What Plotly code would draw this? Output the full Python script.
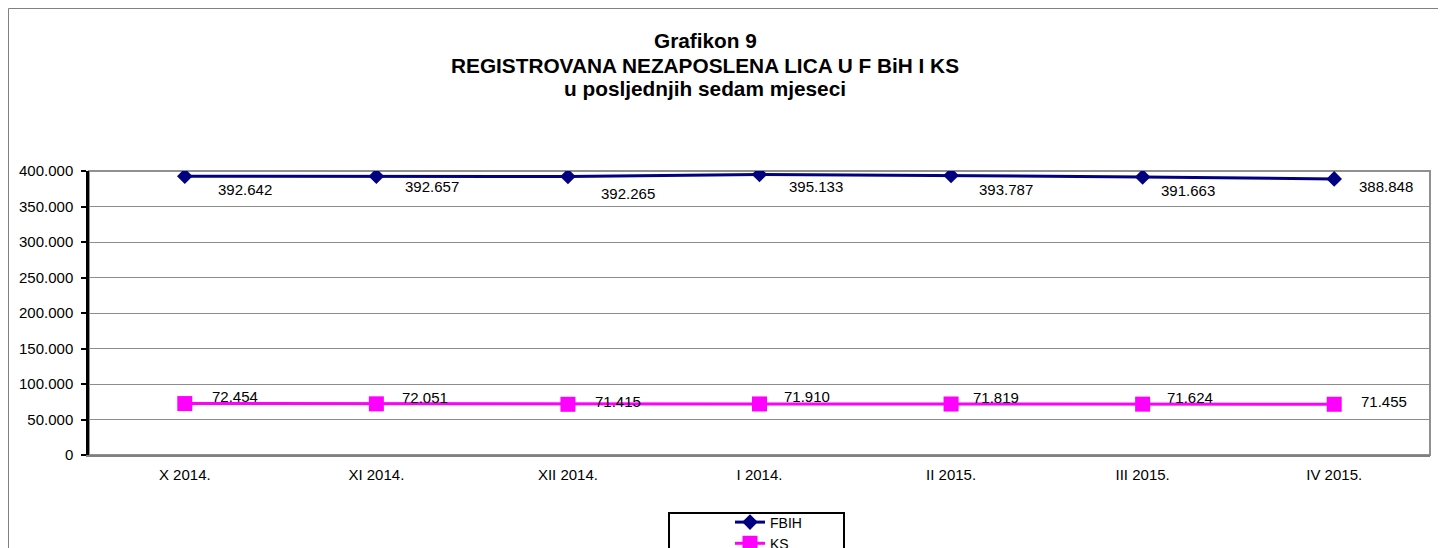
import plotly.graph_objects as go

months = ["X 2014.", "XI 2014.", "XII 2014.", "I 2014.", "II 2015.", "III 2015.", "IV 2015."]
fbih = [392642, 392657, 392265, 395133, 393787, 391663, 388848]
ks = [72454, 72051, 71415, 71910, 71819, 71624, 71455]
y_ticks = [0, 50000, 100000, 150000, 200000, 250000, 300000, 350000, 400000]

title_lines = ["Grafikon 9", "REGISTROVANA NEZAPOSLENA LICA U F BiH I KS", "u posljednjih sedam mjeseci"]

# label offsets in pixels (style only)
fbih_dx = [60, 56, 60, 56, 55, 45, 52]
fbih_dy = [-13, -10, -17, -12, -14, -14, -8]
ks_dx = [50, 49, 50, 47, 45, 47, 50]
ks_dy = [7, 6, 3, 7, 7, 7, 3]

FONT = "Arial, Liberation Sans, sans-serif"

def fmt(v):
    return f"{v:,}".replace(",", ".")

fig = go.Figure()
fig.add_trace(go.Scatter(
    x=months, y=fbih, name="FBIH", mode="lines+markers",
    line=dict(color="#000080", width=3),
    marker=dict(symbol="diamond", size=12, color="#000080"),
))
fig.add_trace(go.Scatter(
    x=months, y=ks, name="KS", mode="lines+markers",
    line=dict(color="#FF00FF", width=3),
    marker=dict(symbol="square", size=15, color="#FF00FF"),
))

annotations = []
for i, (m, v) in enumerate(zip(months, fbih)):
    annotations.append(dict(x=m, y=v, xref="x", yref="y", text=fmt(v), showarrow=False,
                            xshift=fbih_dx[i], yshift=fbih_dy[i],
                            font=dict(family=FONT, size=15, color="black")))
for i, (m, v) in enumerate(zip(months, ks)):
    annotations.append(dict(x=m, y=v, xref="x", yref="y", text=fmt(v), showarrow=False,
                            xshift=ks_dx[i], yshift=ks_dy[i],
                            font=dict(family=FONT, size=15, color="black")))

# screen-pixel -> paper coordinate helpers (page has an 8px body offset)
W, H = 1341, 284
def py(p):
    return (455 - p) / H
def px(p):
    return (p - 89) / W

for txt, yc in zip(title_lines, [41, 66, 89]):
    annotations.append(dict(x=px(705), y=py(yc), xref="paper", yref="paper", text="<b>" + txt + "</b>",
                            showarrow=False, xanchor="center", yanchor="middle",
                            font=dict(family=FONT, size=20.8, color="black")))

fig.update_layout(
    width=1438, height=540,
    margin=dict(l=81, r=16, t=163, b=93, autoexpand=False),
    paper_bgcolor="white", plot_bgcolor="white",
    separators=",.",
    font=dict(family=FONT, size=15, color="black"),
    showlegend=True,
    legend=dict(x=px(669), y=py(506.5), xanchor="left", yanchor="top",
                bgcolor="rgba(0,0,0,0)", borderwidth=0,
                font=dict(family=FONT, size=14, color="black"),
                indentation=61, tracegroupgap=0),
    annotations=annotations,
    shapes=[
        dict(type="rect", xref="paper", yref="paper", x0=px(8.5), x1=px(1440), y0=py(620), y1=py(8.5),
             line=dict(color="#808080", width=1), layer="below"),
        dict(type="rect", xref="paper", yref="paper", x0=0, x1=1, y0=0, y1=1,
             line=dict(color="#909090", width=2), layer="below"),
        dict(type="rect", xref="paper", yref="paper", x0=px(669), x1=px(844), y0=py(620), y1=py(513),
             line=dict(color="black", width=2), fillcolor="white", layer="below"),
    ],
)
fig.update_xaxes(type="category", range=[-0.5, 6.5], showgrid=False, showline=True,
                 linecolor="#808080", linewidth=2, ticks="", ticklabelstandoff=5,
                 tickfont=dict(family=FONT, size=15))
fig.update_yaxes(range=[0, 400000], tickvals=y_ticks, tickformat=",d", showgrid=True,
                 gridcolor="#8c8c8c", gridwidth=1, showline=True, linecolor="black", linewidth=2.5,
                 ticks="outside", ticklen=5, tickcolor="black", tickwidth=2, ticklabelstandoff=5,
                 zeroline=False, tickfont=dict(family=FONT, size=15))

fig.write_html("out.html")
